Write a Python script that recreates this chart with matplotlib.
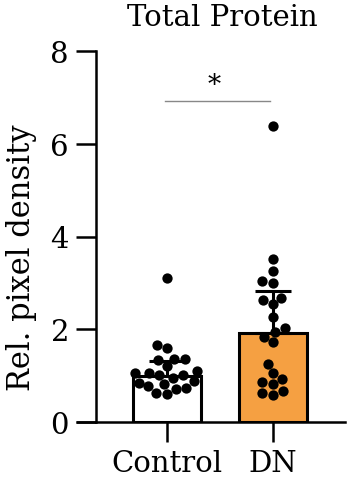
import numpy as np
import matplotlib.pyplot as plt

plt.rcParams['font.family'] = ['DejaVu Serif']

groups = ["Control", "DN"]
bar_means = [1.0, 1.91]
bar_err = [0.32, 0.91]
bar_colors = ["white", "#F5A042"]

control_vals = [3.10, 1.66, 1.59, 1.36, 1.36, 1.34, 1.20, 1.05, 1.02, 1.02, 1.05,
                1.10, 0.95, 0.88, 0.82, 0.84, 0.77, 0.72, 0.73, 0.62, 0.60]
dn_vals = [6.38, 3.51, 3.26, 3.05, 2.99, 2.63, 2.68, 2.54, 2.27, 2.02, 1.94,
           1.84, 1.72, 1.25, 1.05, 0.93, 0.86, 0.82, 0.67, 0.59, 0.62]

# pixel scales of the axes (approx), used for the beeswarm layout
PX_X = 106.0
PX_Y = 46.4
DIAM = 10.5


def swarm(vals):
    placed = []
    offs = np.zeros(len(vals))
    for i in np.argsort(vals):
        vy = vals[i] * PX_Y
        cands = sorted(np.arange(-40, 40.5, 0.5), key=lambda c: (abs(c), c))
        for c in cands:
            if all((c - px) ** 2 + (vy - py) ** 2 >= DIAM ** 2 for px, py in placed):
                placed.append((c, vy))
                offs[i] = c / PX_X
                break
    return offs


fig = plt.figure(figsize=(3.49, 4.85), dpi=100)
ax = fig.add_axes([96 / 349, 62 / 485, 249 / 349, 371 / 485])

x = np.arange(len(groups))
ax.bar(x, bar_means, width=0.64, color=bar_colors, edgecolor="black",
       linewidth=2.2, zorder=2)
ax.errorbar(x, bar_means, yerr=[[0, 0], bar_err], fmt="none", ecolor="black",
            elinewidth=2.2, capsize=13, capthick=2.2, zorder=3)

for xi, vals in zip(x, [control_vals, dn_vals]):
    vals = np.array(vals)
    ax.scatter(xi + swarm(vals), vals, s=55, color="black", zorder=4,
               linewidths=0)

# significance bar
ax.plot([-0.02, 0.97], [6.92, 6.92], color="#888888", lw=1.0)
ax.text(0.45, 7.0, "*", ha="center", va="bottom", fontsize=19)

ax.set_xlim(-0.67, 1.68)
ax.set_ylim(0, 8)
ax.set_yticks([0, 2, 4, 6, 8])
ax.set_xticks(x)
ax.set_xticklabels(groups)
ax.set_ylabel("Rel. pixel density", fontsize=22)
ax.yaxis.set_label_coords(-0.235, 0.445)
ax.text(0.508, 1.054, "Total Protein", transform=ax.transAxes, ha="center",
        va="bottom", fontsize=21)
ax.tick_params(labelsize=21, width=1.8, length=14.4, pad=5)
for s in ["top", "right"]:
    ax.spines[s].set_visible(False)
for s in ["left", "bottom"]:
    ax.spines[s].set_linewidth(1.8)
# x axis line runs on past the y axis, as in the original
ax.plot([-20 / 249, 0], [0, 0], transform=ax.transAxes, color="black",
        lw=1.8, clip_on=False, solid_capstyle="butt")

fig.savefig("out.png", dpi=100)
